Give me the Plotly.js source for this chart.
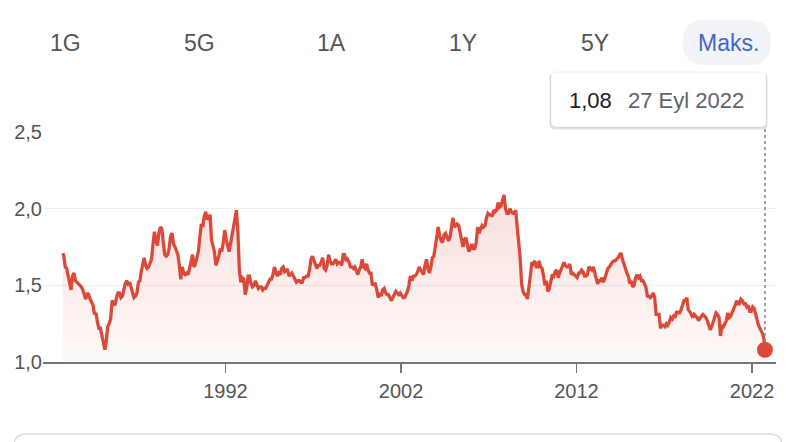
<!DOCTYPE html>
<html>
<head>
<meta charset="utf-8">
<script src="https://cdn.plot.ly/plotly-3.0.1.min.js"></script>
<style>
html,body{margin:0;padding:0;background:#fff;}
#chart{width:808px;height:442px;}
</style>
</head>
<body>
<div id="chart"></div>
<script>
// ---- DATA (GBP/USD style rate) ----
const startDate = '1982-09-27';
const endDate = '2022-09-27';
const endValue = 1.08;
const endLabelValue = '1,08';
const endLabelDate = '27 Eyl 2022';
const rangeButtons = ['1G', '5G', '1A', '1Y', '5Y', 'Maks.'];
const yTicks = [1.0, 1.5, 2.0, 2.5];
const xTickDates = ['1992-01-01', '2002-01-01', '2012-01-01', '2022-01-01'];
const xTickLabels = ['1992', '2002', '2012', '2022'];

// first value is the start date, then monthly values from Oct 1982
const r1982 = [1.71, 1.69, 1.62, 1.61];
const r1983 = [1.56, 1.50, 1.47, 1.56, 1.58, 1.53, 1.52, 1.51, 1.50, 1.49, 1.47, 1.43];
const r1984 = [1.41, 1.45, 1.44, 1.41, 1.39, 1.37, 1.31, 1.32, 1.26, 1.22, 1.22, 1.17];
const r1985 = [1.12, 1.08, 1.13, 1.23, 1.25, 1.28, 1.40, 1.38, 1.37, 1.42, 1.45, 1.45];
const r1986 = [1.42, 1.43, 1.47, 1.51, 1.53, 1.51, 1.52, 1.49, 1.46, 1.42, 1.43, 1.45];
const r1987 = [1.52, 1.53, 1.59, 1.63, 1.68, 1.63, 1.61, 1.62, 1.64, 1.67, 1.77, 1.85];
const r1988 = [1.79, 1.76, 1.84, 1.88, 1.87, 1.78, 1.70, 1.69, 1.70, 1.74, 1.82, 1.84];
const r1989 = [1.77, 1.75, 1.72, 1.70, 1.63, 1.54, 1.62, 1.58, 1.57, 1.58, 1.57, 1.61];
const r1990 = [1.65, 1.70, 1.62, 1.64, 1.68, 1.72, 1.81, 1.90, 1.88, 1.95, 1.98, 1.93];
const r1991 = [1.94, 1.96, 1.80, 1.76, 1.72, 1.63, 1.66, 1.69, 1.74, 1.72, 1.78, 1.86];
const r1992 = [1.80, 1.75, 1.72, 1.77, 1.82, 1.88, 1.92, 1.99, 1.85, 1.60, 1.52, 1.55];
const r1993 = [1.54, 1.44, 1.48, 1.56, 1.56, 1.51, 1.49, 1.50, 1.53, 1.50, 1.48, 1.49];
const r1994 = [1.49, 1.47, 1.48, 1.48, 1.50, 1.53, 1.54, 1.54, 1.57, 1.62, 1.59, 1.56];
const r1995 = [1.58, 1.57, 1.61, 1.62, 1.59, 1.60, 1.60, 1.56, 1.57, 1.58, 1.56, 1.54];
const r1996 = [1.52, 1.53, 1.53, 1.52, 1.52, 1.55, 1.55, 1.56, 1.56, 1.60, 1.67, 1.69];
const r1997 = [1.66, 1.62, 1.61, 1.63, 1.63, 1.65, 1.68, 1.61, 1.60, 1.63, 1.70, 1.66];
const r1998 = [1.64, 1.64, 1.66, 1.67, 1.64, 1.65, 1.65, 1.63, 1.70, 1.70, 1.66, 1.67];
const r1999 = [1.65, 1.62, 1.62, 1.61, 1.62, 1.59, 1.57, 1.60, 1.62, 1.67, 1.62, 1.61];
const r2000 = [1.64, 1.60, 1.58, 1.58, 1.50, 1.51, 1.51, 1.47, 1.42, 1.45, 1.43, 1.47];
const r2001 = [1.48, 1.45, 1.44, 1.44, 1.42, 1.40, 1.42, 1.44, 1.46, 1.45, 1.44, 1.45];
const r2002 = [1.43, 1.42, 1.42, 1.44, 1.46, 1.50, 1.56, 1.53, 1.56, 1.56, 1.57, 1.59];
const r2003 = [1.62, 1.60, 1.58, 1.57, 1.63, 1.67, 1.61, 1.58, 1.62, 1.68, 1.69, 1.76];
const r2004 = [1.83, 1.88, 1.82, 1.79, 1.78, 1.83, 1.84, 1.81, 1.79, 1.81, 1.87, 1.94];
const r2005 = [1.88, 1.89, 1.90, 1.89, 1.84, 1.81, 1.75, 1.80, 1.81, 1.76, 1.72, 1.74];
const r2006 = [1.77, 1.74, 1.74, 1.78, 1.88, 1.84, 1.86, 1.89, 1.88, 1.89, 1.94, 1.97];
const r2007 = [1.96, 1.96, 1.95, 1.99, 1.98, 1.99, 2.04, 2.01, 2.02, 2.05, 2.09, 2.00];
const r2008 = [1.97, 1.97, 2.00, 1.98, 1.97, 1.97, 1.99, 1.88, 1.78, 1.68, 1.51, 1.46];
const r2009 = [1.44, 1.44, 1.41, 1.47, 1.56, 1.65, 1.64, 1.66, 1.62, 1.62, 1.66, 1.62];
const r2010 = [1.61, 1.56, 1.50, 1.53, 1.46, 1.48, 1.53, 1.57, 1.56, 1.59, 1.60, 1.55];
const r2011 = [1.58, 1.61, 1.62, 1.65, 1.63, 1.62, 1.62, 1.64, 1.57, 1.58, 1.57, 1.56];
const r2012 = [1.55, 1.58, 1.58, 1.60, 1.59, 1.56, 1.56, 1.57, 1.62, 1.61, 1.60, 1.62];
const r2013 = [1.58, 1.55, 1.51, 1.53, 1.53, 1.55, 1.52, 1.55, 1.59, 1.61, 1.62, 1.64];
const r2014 = [1.65, 1.66, 1.66, 1.67, 1.68, 1.70, 1.71, 1.67, 1.63, 1.61, 1.58, 1.56];
const r2015 = [1.51, 1.53, 1.49, 1.50, 1.55, 1.57, 1.55, 1.56, 1.53, 1.53, 1.51, 1.49];
const r2016 = [1.43, 1.43, 1.42, 1.43, 1.45, 1.42, 1.31, 1.31, 1.31, 1.22, 1.24, 1.24];
const r2017 = [1.23, 1.25, 1.24, 1.26, 1.29, 1.28, 1.30, 1.29, 1.33, 1.32, 1.32, 1.34];
const r2018 = [1.38, 1.40, 1.40, 1.42, 1.34, 1.33, 1.31, 1.29, 1.31, 1.30, 1.29, 1.27];
const r2019 = [1.29, 1.30, 1.31, 1.30, 1.29, 1.27, 1.24, 1.21, 1.23, 1.27, 1.29, 1.32];
const r2020 = [1.31, 1.29, 1.17, 1.24, 1.23, 1.25, 1.27, 1.32, 1.29, 1.30, 1.32, 1.35];
const r2021 = [1.37, 1.40, 1.38, 1.38, 1.41, 1.40, 1.38, 1.38, 1.36, 1.37, 1.33, 1.33];
const r2022 = [1.36, 1.35, 1.31, 1.28, 1.24, 1.22, 1.20, 1.18, 1.13];

const yearly = [r1983, r1984, r1985, r1986, r1987, r1988, r1989, r1990, r1991, r1992,
  r1993, r1994, r1995, r1996, r1997, r1998, r1999, r2000, r2001, r2002, r2003, r2004,
  r2005, r2006, r2007, r2008, r2009, r2010, r2011, r2012, r2013, r2014, r2015, r2016,
  r2017, r2018, r2019, r2020, r2021, r2022];

// ---- build series ----
const xs = [startDate], ys = [r1982[0]];
const pad = n => (n < 10 ? '0' : '') + n;
for (let m = 0; m < 3; m++) { xs.push('1982-' + pad(10 + m) + '-15'); ys.push(r1982[m + 1]); }
yearly.forEach((arr, i) => {
  const yr = 1983 + i;
  arr.forEach((v, m) => { xs.push(yr + '-' + pad(m + 1) + '-15'); ys.push(v); });
});
xs.push(endDate); ys.push(endValue);

// ---- pixel helpers for decorations ----
const L = 43, R = 776, T = 132, B = 362;
const px = x => (x - L) / (R - L);
const py = y => (B - y) / (B - T);
function rr(x0, y0, x1, y1, r) {
  const P = (x, y) => px(x).toFixed(5) + ',' + py(y).toFixed(5);
  return 'M' + P(x0 + r, y0) + ' L' + P(x1 - r, y0) + ' Q' + P(x1, y0) + ' ' + P(x1, y0 + r) +
    ' L' + P(x1, y1 - r) + ' Q' + P(x1, y1) + ' ' + P(x1 - r, y1) +
    ' L' + P(x0 + r, y1) + ' Q' + P(x0, y1) + ' ' + P(x0, y1 - r) +
    ' L' + P(x0, y0 + r) + ' Q' + P(x0, y0) + ' ' + P(x0 + r, y0) + ' Z';
}

const RED = '#db4a39';
const FONT = 'Liberation Sans, Arial, Helvetica, sans-serif';

const traces = [
  {
    x: xs, y: ys, type: 'scatter', mode: 'lines',
    line: { color: RED, width: 3.3, shape: 'linear' },
    fill: 'tozeroy',
    fillgradient: {
      type: 'vertical', start: 1.0, stop: 2.12,
      colorscale: [[0, 'rgba(219,74,57,0.03)'], [1, 'rgba(219,74,57,0.18)']]
    },
    hoverinfo: 'skip', cliponaxis: true
  },
  {
    x: [endDate], y: [endValue], type: 'scatter', mode: 'markers',
    marker: { color: RED, size: 16 }, cliponaxis: false, hoverinfo: 'skip'
  }
];

const btnX = [65, 199, 331, 463, 595, 728];
const annotations = rangeButtons.map((t, i) => ({
  xref: 'paper', yref: 'paper', x: px(btnX[i]), y: py(43),
  xanchor: 'center', yanchor: 'middle', showarrow: false, text: t,
  font: { family: FONT, size: 23, color: i === 5 ? '#4368c6' : '#555555' }
}));
annotations.push({
  xref: 'paper', yref: 'paper', x: px(567), y: py(101), xanchor: 'left', yanchor: 'middle',
  showarrow: false, text: endLabelValue, font: { family: FONT, size: 22, color: '#202124' }
});
annotations.push({
  xref: 'paper', yref: 'paper', x: px(626), y: py(101), xanchor: 'left', yanchor: 'middle',
  showarrow: false, text: endLabelDate, font: { family: FONT, size: 22, color: '#5f6368' }
});

const shapes = [
  // pill behind "Maks."
  { type: 'path', xref: 'paper', yref: 'paper', path: rr(683, 20, 771, 65, 22),
    fillcolor: '#f1f3f8', line: { width: 0 }, layer: 'below' },
  // tooltip shadow
  { type: 'path', xref: 'paper', yref: 'paper', path: rr(549, 73, 768, 130, 6),
    fillcolor: 'rgba(0,0,0,0.05)', line: { width: 0 } },
  { type: 'path', xref: 'paper', yref: 'paper', path: rr(550, 73, 767, 129, 5),
    fillcolor: 'rgba(0,0,0,0.08)', line: { width: 0 } },
  // tooltip box
  { type: 'path', xref: 'paper', yref: 'paper', path: rr(551, 72, 766, 127, 5),
    fillcolor: '#ffffff', line: { color: 'rgba(0,0,0,0.06)', width: 1 } },
  // dotted guide
  { type: 'line', xref: 'x', yref: 'paper', x0: endDate, x1: endDate, y0: py(342), y1: py(129),
    line: { color: '#8a8a8a', width: 1.6, dash: 'dot' } },
  // bottom card outline
  { type: 'path', xref: 'paper', yref: 'paper', path: rr(14, 434, 782, 470, 12),
    fillcolor: 'rgba(0,0,0,0)', line: { color: '#dadce0', width: 1.5 } }
];

const layout = {
  width: 808, height: 442,
  margin: { l: L, r: 808 - R, t: T, b: 442 - B, pad: 0 },
  paper_bgcolor: '#ffffff', plot_bgcolor: '#ffffff',
  separators: ',.',
  showlegend: false,
  font: { family: FONT, color: '#5f6368' },
  xaxis: {
    type: 'date', range: ['1981-08-08', '2023-05-15'],
    tickmode: 'array', tickvals: xTickDates, ticktext: xTickLabels,
    showgrid: false, zeroline: false,
    showline: true, linecolor: '#777777', linewidth: 2,
    ticks: 'outside', ticklen: 9, tickwidth: 1.5, tickcolor: '#777777',
    ticklabelstandoff: 1,
    tickfont: { family: FONT, size: 20, color: '#555555' },
    fixedrange: true
  },
  yaxis: {
    range: [1.0, 2.5], tickvals: yTicks, tickformat: '.1f',
    showgrid: true, gridcolor: '#eeeeee', gridwidth: 1,
    zeroline: false, showline: false, ticks: '',
    tickfont: { family: FONT, size: 20, color: '#555555' },
    fixedrange: true
  },
  annotations: annotations,
  shapes: shapes
};

Plotly.newPlot('chart', traces, layout, { displayModeBar: false, staticPlot: true });
</script>
</body>
</html>
